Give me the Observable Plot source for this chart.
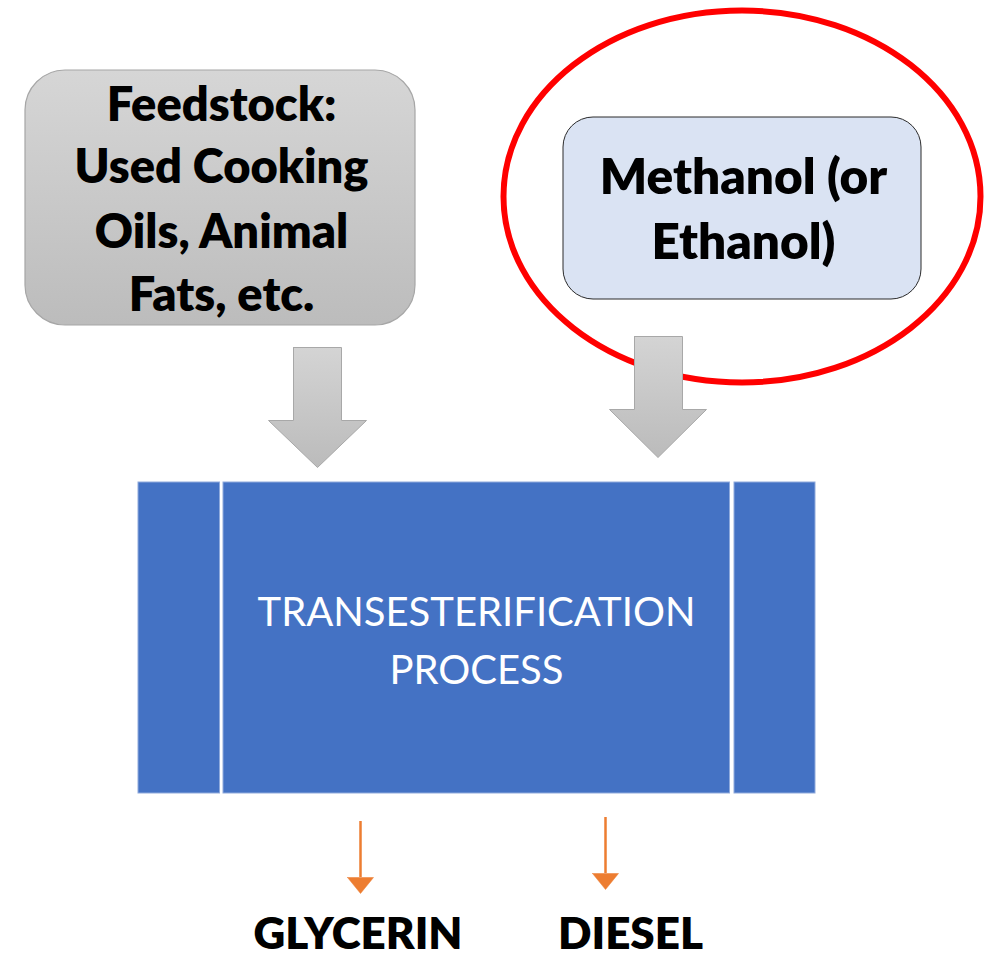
<!DOCTYPE html>
<html>
<head>
<meta charset="utf-8">
<script src="https://cdn.jsdelivr.net/npm/d3@7"></script>
<script src="https://cdn.jsdelivr.net/npm/@observablehq/plot@0.6"></script>
<style>
  html, body { margin: 0; padding: 0; background: #ffffff; }
  #chart svg { display: block; }
</style>
</head>
<body>
<div id="chart"></div>
<script>
// ---- diagram content (layout in page pixels, y downward) ----
const inputBoxes = [
  {id: "feedstock", x1: 25, x2: 415, y1: 70, y2: 325},
  {id: "alcohol", x1: 563, x2: 921, y1: 117, y2: 299}
];
const feedstockLines = [
  {text: "Feedstock:", x: 221, y: 120},
  {text: "Used Cooking", x: 221, y: 182},
  {text: "Oils, Animal", x: 221, y: 247},
  {text: "Fats, etc.", x: 221, y: 310}
];
const alcoholLines = [
  {text: "Methanol (or", x: 743, y: 193},
  {text: "Ethanol)", x: 743, y: 258}
];
const highlightEllipse = [{cx: 741.5, cy: 196, rx: 238.5, ry: 186}];
const blockArrows = [
  {id: "a1", sx1: 293, sx2: 341, top: 347, headTop: 420, hx1: 268, hx2: 366, tip: 467},
  {id: "a2", sx1: 634, sx2: 682, top: 336, headTop: 409, hx1: 609, hx2: 706, tip: 457}
];
const processPanels = [
  {x1: 138, x2: 219.5, y1: 482, y2: 793},
  {x1: 223, x2: 729.5, y1: 482, y2: 793},
  {x1: 734, x2: 815, y1: 482, y2: 793}
];
const processLines = [
  {text: "TRANSESTERIFICATION", x: 476, y: 625},
  {text: "PROCESS", x: 476, y: 683}
];
const outputArrows = [
  {id: "o1", x: 360, top: 821, headTop: 877, tip: 893, half: 13},
  {id: "o2", x: 605, top: 817, headTop: 873, tip: 889, half: 13}
];
const outputLabels = [
  {text: "GLYCERIN", x: 357.5, y: 948},
  {text: "DIESEL", x: 630, y: 948}
];

// ---- derived polygons ----
const blockArrowPts = blockArrows.flatMap(a => [
  [a.sx1, a.top], [a.sx2, a.top], [a.sx2, a.headTop], [a.hx2, a.headTop],
  [(a.hx1 + a.hx2) / 2, a.tip], [a.hx1, a.headTop], [a.sx1, a.headTop], [a.sx1, a.top]
].map(([x, y]) => ({id: a.id, x, y})));
const headPts = outputArrows.flatMap(a => [
  [a.x - a.half, a.headTop], [a.x + a.half, a.headTop], [a.x, a.tip], [a.x - a.half, a.headTop]
].map(([x, y]) => ({id: a.id, x, y})));

// ellipse symbol (size -> ry, rx from ratio)
const e = highlightEllipse[0];
const ellipseSymbol = {
  draw(context, size) {
    const ry = Math.sqrt(size / Math.PI), rx = ry * (e.rx / e.ry);
    const k = 0.5522847498, kx = k * rx, ky = k * ry;
    context.moveTo(rx, 0);
    context.bezierCurveTo(rx, ky, kx, ry, 0, ry);
    context.bezierCurveTo(-kx, ry, -rx, ky, -rx, 0);
    context.bezierCurveTo(-rx, -ky, -kx, -ry, 0, -ry);
    context.bezierCurveTo(kx, -ry, rx, -ky, rx, 0);
    context.closePath();
  }
};

const font = "Lato, 'Open Sans', sans-serif";

const svg = Plot.plot({
  width: 995,
  height: 956,
  margin: 0,
  x: {domain: [0, 995], range: [0, 995], axis: null},
  y: {domain: [0, 956], range: [0, 956], axis: null},
  marks: [
    // input boxes
    Plot.rect([inputBoxes[0]], {x1: "x1", x2: "x2", y1: "y1", y2: "y2", rx: 40, ry: 40,
      fill: "url(#grayGrad)", stroke: "#a6a6a6", strokeWidth: 1.2}),
    Plot.rect([inputBoxes[1]], {x1: "x1", x2: "x2", y1: "y1", y2: "y2", rx: 30, ry: 30,
      fill: "#dae3f3", stroke: "#2b2b2b", strokeWidth: 1}),
    Plot.text(feedstockLines, {x: "x", y: "y", text: "text", lineAnchor: "bottom", textAnchor: "middle",
      fontSize: 47, fontWeight: 800, fontFamily: font, fill: "#000000"}),
    Plot.text(alcoholLines, {x: "x", y: "y", text: "text", lineAnchor: "bottom", textAnchor: "middle",
      fontSize: 49.5, fontWeight: 800, fontFamily: font, fill: "#000000"}),
    // red highlight ellipse
    Plot.dot(highlightEllipse, {x: "cx", y: "cy", r: e.ry, symbol: ellipseSymbol,
      fill: "none", stroke: "#ff0000", strokeWidth: 6}),
    // gray block arrows
    Plot.line(blockArrowPts, {x: "x", y: "y", z: "id", fill: "url(#arrowGrad)",
      stroke: "#a8a8a8", strokeWidth: 1, strokeLinejoin: "miter", curve: "linear"}),
    // process block
    Plot.rect(processPanels, {x1: "x1", x2: "x2", y1: "y1", y2: "y2",
      fill: "#4472c4", stroke: "#8faadc", strokeWidth: 1}),
    Plot.text(processLines, {x: "x", y: "y", text: "text", lineAnchor: "bottom", textAnchor: "middle",
      fontSize: 40, fontWeight: "normal", fontFamily: font, fill: "#ffffff"}),
    // orange output arrows
    Plot.ruleX(outputArrows, {x: "x", y1: "top", y2: "headTop", stroke: "#ed7d31", strokeWidth: 2.5}),
    Plot.line(headPts, {x: "x", y: "y", z: "id", fill: "#ed7d31", stroke: "#ed7d31",
      strokeWidth: 0.5, strokeLinejoin: "miter", curve: "linear"}),
    Plot.text(outputLabels, {x: "x", y: "y", text: "text", lineAnchor: "bottom", textAnchor: "middle",
      fontSize: 44, fontWeight: 800, fontFamily: font, fill: "#000000"})
  ]
});

// gradient definitions referenced by the marks
const defs = d3.select(svg).insert("defs", ":first-child");
const g1 = defs.append("linearGradient").attr("id", "grayGrad").attr("x1", 0).attr("y1", 0).attr("x2", 0).attr("y2", 1);
g1.append("stop").attr("offset", "0%").attr("stop-color", "#d6d6d6");
g1.append("stop").attr("offset", "100%").attr("stop-color", "#bcbcbc");
const g2 = defs.append("linearGradient").attr("id", "arrowGrad").attr("x1", 0).attr("y1", 0).attr("x2", 0).attr("y2", 1);
g2.append("stop").attr("offset", "0%").attr("stop-color", "#d4d4d4");
g2.append("stop").attr("offset", "100%").attr("stop-color", "#bbbbbb");

document.getElementById("chart").appendChild(svg);
</script>
</body>
</html>
